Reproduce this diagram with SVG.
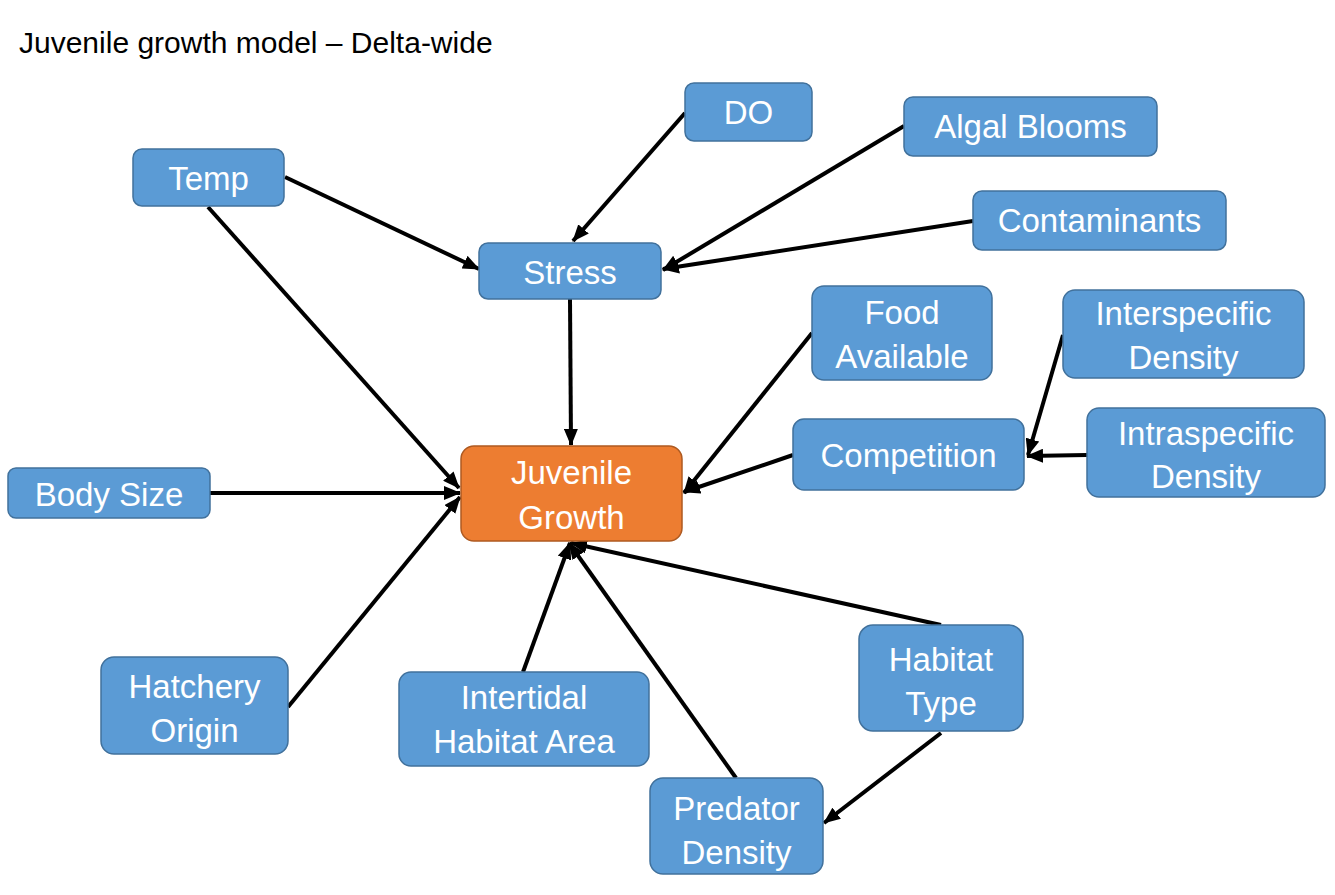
<svg xmlns="http://www.w3.org/2000/svg" width="1335" height="895" viewBox="0 0 1335 895">
<style>
.n rect{fill:#5B9BD5;stroke:#41719C;stroke-width:1.5}
.o rect{fill:#ED7D31;stroke:#AE5A21;stroke-width:1.5}
text{font-family:"Liberation Sans",Arial,sans-serif;font-size:33px;fill:#fff;text-anchor:middle}
.t{fill:#000;text-anchor:start;font-size:30px}
#edges line{stroke:#000;stroke-width:4;marker-end:url(#ah)}
</style>
<defs>
<marker id="ah" markerUnits="userSpaceOnUse" markerWidth="18" markerHeight="14" refX="16" refY="7" orient="auto">
<path d="M0,0 L17,7 L0,14 z" fill="#000"/>
</marker>
</defs>
<rect width="1335" height="895" fill="#fff"/>
<text class="t" x="19" y="53">Juvenile growth model – Delta-wide</text>
<g id="edges">
<line x1="685" y1="113" x2="573" y2="241"/>
<line x1="904" y1="126" x2="663" y2="270"/>
<line x1="973" y1="221" x2="663" y2="269"/>
<line x1="285" y1="177" x2="479" y2="269"/>
<line x1="208" y1="207" x2="459" y2="488"/>
<line x1="570" y1="299" x2="571" y2="445"/>
<line x1="812" y1="333" x2="684" y2="493"/>
<line x1="793" y1="455" x2="684" y2="492"/>
<line x1="1063" y1="335" x2="1028" y2="455"/>
<line x1="1087" y1="455" x2="1027" y2="456"/>
<line x1="210" y1="493" x2="460" y2="493"/>
<line x1="288" y1="707" x2="460" y2="497"/>
<line x1="523" y1="672" x2="570" y2="543"/>
<line x1="736" y1="778" x2="569" y2="543"/>
<line x1="941" y1="625" x2="571" y2="543"/>
<line x1="941" y1="733" x2="824" y2="823"/>
</g>
<g id="do" class="n"><rect x="685" y="83" width="127" height="58" rx="9"/><text x="748.5" y="124">DO</text></g>
<g id="algal" class="n"><rect x="904" y="97" width="253" height="59" rx="9"/><text x="1030.5" y="138">Algal Blooms</text></g>
<g id="temp" class="n"><rect x="133" y="149" width="151" height="57" rx="9"/><text x="208.5" y="190">Temp</text></g>
<g id="contaminants" class="n"><rect x="973" y="191" width="253" height="59" rx="9"/><text x="1099.5" y="232">Contaminants</text></g>
<g id="stress" class="n"><rect x="479" y="243" width="182" height="56" rx="9"/><text x="570" y="284">Stress</text></g>
<g id="food" class="n"><rect x="812" y="286" width="180" height="94" rx="12"/><text x="902" y="324">Food</text><text x="902" y="368">Available</text></g>
<g id="inter" class="n"><rect x="1063" y="290" width="241" height="88" rx="12"/><text x="1183.5" y="325">Interspecific</text><text x="1183.5" y="369">Density</text></g>
<g id="competition" class="n"><rect x="793" y="419" width="231" height="71" rx="11"/><text x="908.5" y="467">Competition</text></g>
<g id="intra" class="n"><rect x="1087" y="408" width="238" height="89" rx="12"/><text x="1206" y="445">Intraspecific</text><text x="1206" y="488">Density</text></g>
<g id="growth" class="o"><rect x="461" y="446" width="221" height="95" rx="13"/><text x="571.5" y="484">Juvenile</text><text x="571.5" y="529">Growth</text></g>
<g id="body" class="n"><rect x="8" y="468" width="202" height="50" rx="8"/><text x="109" y="506">Body Size</text></g>
<g id="hatchery" class="n"><rect x="101" y="657" width="187" height="97" rx="13"/><text x="194.5" y="698">Hatchery</text><text x="194.5" y="742">Origin</text></g>
<g id="intertidal" class="n"><rect x="399" y="672" width="250" height="94" rx="12"/><text x="524" y="709">Intertidal</text><text x="524" y="753">Habitat Area</text></g>
<g id="habitat" class="n"><rect x="859" y="625" width="164" height="106" rx="14"/><text x="941" y="671">Habitat</text><text x="941" y="715">Type</text></g>
<g id="predator" class="n"><rect x="650" y="778" width="173" height="96" rx="13"/><text x="736.5" y="820">Predator</text><text x="736.5" y="864">Density</text></g>
</svg>
